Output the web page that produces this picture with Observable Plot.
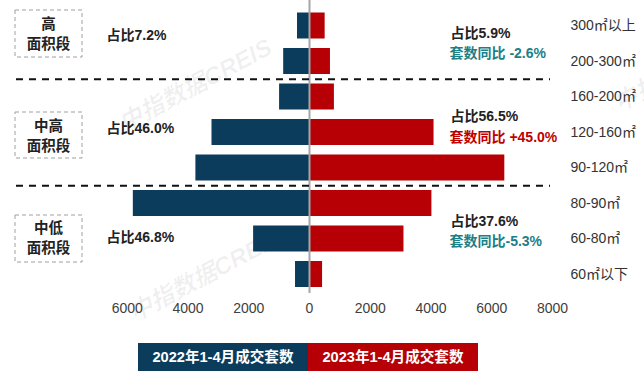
<!DOCTYPE html>
<html><head><meta charset="utf-8">
<script src="https://cdn.jsdelivr.net/npm/d3@7"></script>
<script src="https://cdn.jsdelivr.net/npm/@observablehq/plot@0.6"></script>
<style>
body{margin:0;background:#fff;font-family:"Liberation Sans","Noto Sans CJK SC",sans-serif;}
#wrap{position:relative;width:644px;height:384px;overflow:hidden;}
#legend{position:absolute;left:138px;top:343px;display:flex;}
#legend div{width:170px;height:28px;line-height:28px;text-align:center;color:#fff;font-weight:bold;font-size:14.6px;font-family:"Liberation Sans","Noto Sans CJK SC",sans-serif;}
</style></head><body><div id="wrap"></div>
<script>
const categories = ["300㎡以上","200-300㎡","160-200㎡","120-160㎡","90-120㎡","80-90㎡","60-80㎡","60㎡以下"];
const sales2022 = [395, 850, 985, 3210, 3740, 5800, 1840, 460];
const sales2023 = [515, 690, 820, 4100, 6430, 4030, 3110, 430];
const xTicks = [-6000, -4000, -2000, 0, 2000, 4000, 6000, 8000];
const seriesNames = ["2022年1-4月成交套数", "2023年1-4月成交套数"];
const groupLine1 = ["高", "中高", "中低"];
const groupLine2 = ["面积段", "面积段", "面积段"];
const shareLeft = ["占比7.2%", "占比46.0%", "占比46.8%"];
const shareRight = ["占比5.9%", "占比56.5%", "占比37.6%"];
const yoyRight = ["套数同比 -2.6%", "套数同比 +45.0%", "套数同比-5.3%"];
const groupBreaks = [2, 5];
const watermark = "中指数据CREIS";

const BLUE = "#0c3c5c", RED = "#b60005", TEAL = "#1b8088";
const yoyColors = [TEAL, "#c00000", TEAL];

// layout
const W = 644, H = 330, mL = 126.75, mR = 92, mT = 7.75, mB = 38.25;
const xDom = [-6000, 8000];
const kx = (W - mL - mR) / (xDom[1] - xDom[0]);
const ky = (H - mT - mB) / categories.length;
const X = px => xDom[0] + (px - mL) / kx;
const Y = py => (py - mT) / ky;

const rows = categories.map((c, i) => ({c, i, v22: sales2022[i], v23: sales2023[i]}));
const groups = groupLine1.map((g, i) => ({g1: g, g2: groupLine2[i], i, sl: shareLeft[i], sr: shareRight[i], yoy: yoyRight[i], col: yoyColors[i]}));

const boxY1 = [Y(10), Y(112), Y(215)];
const boxY2 = [Y(57), Y(158), Y(262)];
const groupTextY = [34, 136, 237.5];
const shareLeftY = [Y(35), Y(128), Y(237)];
const shareRightY = [Y(33), Y(116), Y(221)];
const yoyY = [Y(53), Y(137), Y(241)];

const font = "'Liberation Sans','Noto Sans CJK SC',sans-serif";

const chart = Plot.plot({
  width: W, height: H,
  marginLeft: mL, marginRight: mR, marginTop: mT, marginBottom: mB,
  style: {fontFamily: font, fontSize: "14px", background: "#fff", color: "#404040", overflow: "visible"},
  x: {domain: xDom},
  y: {domain: [categories.length, 0], axis: null},
  marks: [
    Plot.text([watermark, watermark, watermark], {
      x: [X(195), X(205), X(690)], y: [Y(85), Y(275), Y(65)],
      text: d => d, rotate: -28, fontSize: 24, fontWeight: "bold", fontStyle: "italic",
      fill: "#000", fillOpacity: 0.06
    }),
    Plot.rectX(rows, {x1: 0, x2: d => -d.v22, y1: d => d.i, y2: d => d.i + 1, insetTop: 4.75, insetBottom: 4.75, fill: BLUE}),
    Plot.rectX(rows, {x1: 0, x2: d => d.v23, y1: d => d.i, y2: d => d.i + 1, insetTop: 4.75, insetBottom: 4.75, fill: RED}),
    Plot.ruleX([0], {y1: Y(0), y2: Y(293), stroke: "#a6a6a6", strokeWidth: 2}),
    Plot.ruleY(groupBreaks, {x1: X(16), x2: X(550), stroke: "#111", strokeWidth: 2, strokeDasharray: "7,6"}),
    Plot.rect(groups, {x1: X(15), x2: X(82), y1: (d, i) => boxY1[i], y2: (d, i) => boxY2[i],
      fill: "none", stroke: "#a0a0a0", strokeWidth: 1, strokeDasharray: "4,3"}),
    Plot.text(groups, {x: X(48), y: (d, i) => Y(groupTextY[i] - 10), text: "g1", fontSize: 14.5, fontWeight: "bold",
      fill: "#222", fontFamily: "'Noto Sans CJK SC',sans-serif"}),
    Plot.text(groups, {x: X(48), y: (d, i) => Y(groupTextY[i] + 10), text: "g2", fontSize: 14.5, fontWeight: "bold",
      fill: "#222", fontFamily: "'Noto Sans CJK SC',sans-serif"}),
    Plot.text(groups, {x: X(106), y: (d, i) => shareLeftY[i], text: "sl", textAnchor: "start",
      fontSize: 14, fontWeight: "bold", fill: "#222"}),
    Plot.text(groups, {x: X(450), y: (d, i) => shareRightY[i], text: "sr", textAnchor: "start",
      fontSize: 14, fontWeight: "bold", fill: "#222"}),
    Plot.text(groups, {x: X(449), y: (d, i) => yoyY[i], text: "yoy", textAnchor: "start",
      fontSize: 14, fontWeight: "bold", fill: "col"}),
    Plot.text(rows, {x: X(570), y: d => d.i + 0.5, text: "c", textAnchor: "start", fontSize: 14, fill: "#333"}),
    Plot.axisX(xTicks, {tickSize: 0, tickPadding: 11, tickFormat: d => String(Math.abs(d)), fontSize: 14, fill: "#404040"})
  ]
});

const wrap = document.getElementById("wrap");
wrap.appendChild(chart);
const legend = document.createElement("div");
legend.id = "legend";
[BLUE, RED].forEach((c, i) => {
  const d = document.createElement("div");
  d.style.background = c;
  d.textContent = seriesNames[i];
  legend.appendChild(d);
});
wrap.appendChild(legend);
</script></body></html>
